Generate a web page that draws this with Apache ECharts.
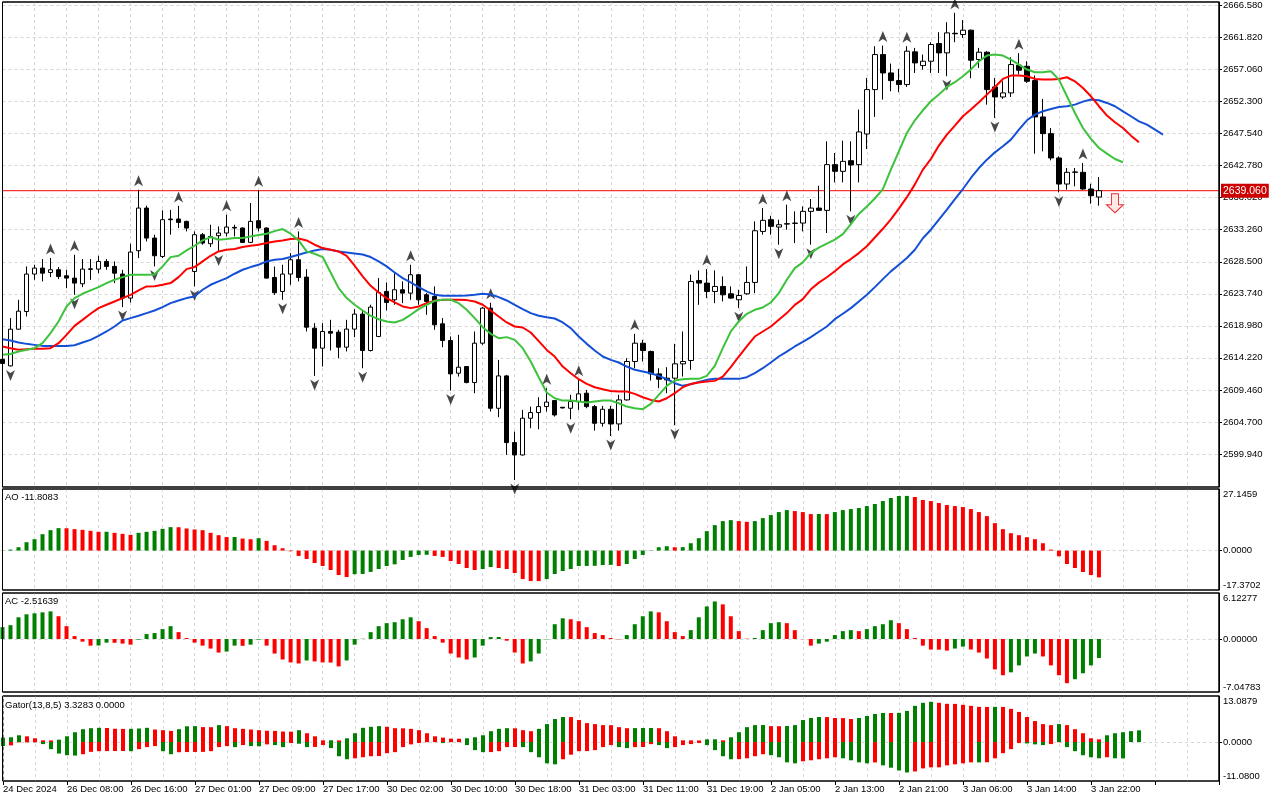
<!DOCTYPE html>
<html>
<head>
<meta charset="utf-8">
<title>XAUUSD H1 - Alligator, AO, AC, Gator</title>
<script src="https://cdn.jsdelivr.net/npm/echarts@6.0.0/dist/echarts.min.js"></script>
<style>
  html, body { margin: 0; padding: 0; background: #fff; }
  #main { width: 1280px; height: 800px; }
</style>
</head>
<body>
<div id="main"></div>
<script>
// time axis labels, one every 8 hourly bars
var timeLabels = ['24 Dec 2024', '26 Dec 08:00', '26 Dec 16:00', '27 Dec 01:00', '27 Dec 09:00', '27 Dec 17:00',
  '30 Dec 02:00', '30 Dec 10:00', '30 Dec 18:00', '31 Dec 03:00', '31 Dec 11:00', '31 Dec 19:00',
  '2 Jan 05:00', '2 Jan 13:00', '2 Jan 21:00', '3 Jan 06:00', '3 Jan 14:00', '3 Jan 22:00'];

var priceTicks = [2599.94, 2604.70, 2609.46, 2614.22, 2618.98, 2623.74, 2628.50, 2633.26,
  2638.02, 2642.78, 2647.54, 2652.30, 2657.06, 2661.82, 2666.58];
var aoTicks = [27.1459, 0, -17.3702];
var acTicks = [6.12277, 0, -7.04783];
var gatorTicks = [13.0879, 0, -11.0800];

var opens = [
  2614.00, 2613.03, 2618.48, 2621.11, 2626.67, 2627.56, 2626.91, 2627.31, 2626.42, 2626.07,
  2625.23, 2627.36, 2627.41, 2628.55, 2627.81, 2626.67, 2623.10, 2630.14, 2636.48, 2632.02,
  2629.29, 2634.85, 2634.85, 2634.50, 2627.06, 2632.52, 2631.18, 2632.37, 2632.77, 2633.61,
  2633.51, 2631.38, 2634.60, 2633.51, 2626.17, 2624.09, 2626.67, 2628.80, 2626.22, 2618.63,
  2615.66, 2618.14, 2618.04, 2615.81, 2618.49, 2620.72, 2615.31, 2617.40, 2624.09, 2622.85,
  2624.34, 2623.84, 2626.57, 2623.59, 2623.34, 2619.28, 2616.80, 2611.94, 2612.93, 2610.55,
  2616.40, 2621.61, 2606.73, 2611.54, 2601.63, 2599.79, 2605.25, 2606.09, 2606.98, 2607.87,
  2606.88, 2606.73, 2607.72, 2608.97, 2606.98, 2604.50, 2606.58, 2604.40, 2607.97, 2613.68,
  2616.40, 2615.16, 2611.84, 2611.20, 2611.20, 2613.33, 2613.83, 2625.72, 2625.33, 2624.09,
  2624.83, 2623.74, 2622.85, 2623.74, 2625.43, 2633.01, 2634.75, 2633.66, 2634.15, 2634.20,
  2634.25, 2635.99, 2636.48, 2636.14, 2642.93, 2641.94, 2643.52, 2642.93, 2647.49, 2654.08,
  2659.29, 2656.56, 2655.42, 2654.83, 2659.69, 2657.65, 2658.30, 2660.93, 2659.54, 2662.45,
  2662.26, 2662.91, 2658.55, 2659.64, 2654.48, 2652.99, 2653.59, 2657.70, 2657.55, 2655.42,
  2650.02, 2647.54, 2643.92, 2640.05, 2641.84, 2641.79, 2639.31, 2638.12];
var highs = [
  2614.30, 2620.12, 2622.85, 2627.81, 2628.05, 2628.90, 2629.05, 2627.71, 2627.31, 2629.54,
  2628.90, 2628.90, 2629.39, 2628.90, 2628.55, 2627.31, 2631.18, 2639.21, 2636.83, 2632.52,
  2636.14, 2636.20, 2636.80, 2634.60, 2633.01, 2632.77, 2634.00, 2633.76, 2635.49, 2634.00,
  2633.60, 2637.23, 2639.11, 2633.60, 2627.80, 2628.05, 2629.79, 2633.01, 2627.41, 2619.38,
  2619.38, 2619.87, 2618.39, 2619.87, 2621.46, 2621.36, 2622.11, 2626.07, 2625.43, 2626.82,
  2625.58, 2628.05, 2626.60, 2623.84, 2624.83, 2620.12, 2617.40, 2617.64, 2613.00, 2618.14,
  2621.80, 2622.40, 2613.92, 2611.69, 2603.26, 2606.49, 2606.98, 2608.37, 2609.71, 2607.90,
  2606.90, 2608.72, 2610.95, 2609.46, 2607.23, 2607.08, 2607.08, 2608.72, 2614.17, 2617.79,
  2616.90, 2615.31, 2612.68, 2612.83, 2616.30, 2618.14, 2626.57, 2627.21, 2627.41, 2627.21,
  2626.32, 2624.83, 2624.34, 2627.81, 2634.50, 2636.48, 2635.34, 2634.75, 2636.98, 2635.99,
  2636.73, 2637.82, 2639.80, 2646.40, 2644.66, 2646.50, 2646.40, 2651.11, 2655.82, 2660.53,
  2660.63, 2657.95, 2657.16, 2660.53, 2660.28, 2659.29, 2661.12, 2662.61, 2664.10, 2665.49,
  2664.40, 2663.01, 2660.28, 2659.79, 2655.82, 2655.32, 2658.90, 2659.50, 2658.30, 2656.17,
  2652.70, 2648.38, 2644.17, 2642.43, 2642.43, 2643.17, 2640.10, 2641.09];
var lows = [
  2613.30, 2612.93, 2618.40, 2620.37, 2625.82, 2625.58, 2626.22, 2625.92, 2624.58, 2623.59,
  2624.73, 2625.82, 2626.81, 2627.31, 2625.33, 2621.76, 2622.45, 2629.05, 2631.52, 2627.81,
  2629.05, 2632.52, 2633.51, 2633.01, 2624.83, 2631.03, 2630.68, 2630.04, 2632.27, 2632.27,
  2631.28, 2631.28, 2633.01, 2626.00, 2623.59, 2622.85, 2625.08, 2625.58, 2618.14, 2611.54,
  2612.93, 2615.31, 2614.17, 2615.17, 2617.30, 2612.68, 2615.17, 2617.30, 2621.26, 2622.11,
  2622.35, 2622.85, 2622.11, 2620.62, 2618.39, 2615.81, 2609.36, 2611.45, 2610.45, 2608.97,
  2616.15, 2606.24, 2605.40, 2599.79, 2596.07, 2599.70, 2603.76, 2603.61, 2606.24, 2605.50,
  2606.70, 2605.10, 2606.49, 2606.73, 2603.41, 2604.01, 2602.62, 2603.41, 2607.87, 2612.68,
  2613.68, 2610.85, 2609.71, 2608.97, 2604.20, 2611.45, 2612.44, 2622.10, 2623.10, 2622.35,
  2622.60, 2623.00, 2621.61, 2623.59, 2623.84, 2632.52, 2632.52, 2631.03, 2633.26, 2631.28,
  2633.01, 2631.03, 2636.05, 2632.77, 2640.30, 2640.30, 2635.99, 2640.30, 2645.26, 2650.02,
  2652.60, 2653.84, 2653.69, 2654.48, 2656.56, 2657.06, 2656.56, 2656.56, 2656.07, 2661.12,
  2661.77, 2655.77, 2657.31, 2651.85, 2649.87, 2652.70, 2652.99, 2656.32, 2655.08, 2644.56,
  2644.91, 2643.57, 2638.81, 2639.21, 2639.71, 2639.21, 2637.13, 2636.83];
var closes = [
  2613.40, 2618.48, 2621.16, 2626.67, 2627.56, 2626.81, 2627.31, 2626.32, 2626.07, 2625.33,
  2627.41, 2627.46, 2628.55, 2627.81, 2626.81, 2623.10, 2629.94, 2636.48, 2632.02, 2629.39,
  2634.75, 2634.75, 2634.35, 2633.51, 2632.52, 2631.28, 2632.27, 2632.77, 2633.66, 2633.51,
  2631.38, 2634.50, 2633.51, 2626.07, 2623.90, 2626.67, 2628.80, 2626.17, 2618.78, 2615.66,
  2618.14, 2617.89, 2615.81, 2618.49, 2620.72, 2615.31, 2621.76, 2623.94, 2622.45, 2624.34,
  2623.84, 2626.57, 2622.85, 2622.60, 2619.13, 2616.80, 2611.84, 2612.83, 2610.55, 2616.40,
  2621.61, 2606.73, 2611.54, 2601.63, 2599.79, 2605.25, 2606.09, 2606.98, 2607.65, 2605.74,
  2606.78, 2607.72, 2608.87, 2606.98, 2604.50, 2606.58, 2604.40, 2607.97, 2613.68, 2616.40,
  2615.31, 2611.84, 2611.05, 2610.95, 2613.33, 2613.68, 2625.57, 2625.33, 2624.09, 2624.83,
  2623.59, 2623.10, 2623.49, 2625.43, 2633.11, 2634.65, 2633.76, 2634.00, 2634.10, 2634.25,
  2635.99, 2636.48, 2636.14, 2642.93, 2641.94, 2643.42, 2642.88, 2647.79, 2654.08, 2659.29,
  2656.56, 2655.42, 2654.83, 2659.79, 2658.05, 2658.30, 2660.78, 2659.54, 2662.51, 2662.38,
  2662.91, 2658.45, 2659.64, 2654.08, 2652.99, 2653.59, 2657.80, 2656.96, 2655.32, 2650.02,
  2647.54, 2643.92, 2640.05, 2641.79, 2641.80, 2639.31, 2638.32, 2639.06];

// Alligator lines (already shifted forward: jaw 8, teeth 5, lips 3 bars)
var jaw = [
  2617.00, 2616.80, 2616.50, 2616.30, 2616.15, 2616.00, 2616.00, 2616.00, 2616.00, 2616.10,
  2616.50, 2616.90, 2617.49, 2618.14, 2618.88, 2619.77, 2620.12, 2620.47, 2620.87, 2621.26,
  2621.76, 2622.35, 2622.75, 2623.10, 2623.34, 2624.34, 2625.08, 2625.58, 2626.07, 2626.72,
  2627.31, 2627.71, 2628.05, 2628.55, 2628.80, 2628.90, 2629.20, 2629.54, 2629.89, 2630.19,
  2630.38, 2630.29, 2630.04, 2629.89, 2629.74, 2629.59, 2629.20, 2628.55, 2627.81, 2626.91,
  2626.07, 2625.43, 2624.73, 2624.09, 2623.59, 2623.44, 2623.44, 2623.44, 2623.49, 2623.59,
  2623.74, 2623.64, 2623.25, 2622.75, 2622.11, 2621.46, 2620.87, 2620.47, 2620.25, 2620.07,
  2619.48, 2618.63, 2617.39, 2616.30, 2615.31, 2614.42, 2613.92, 2613.53, 2612.93, 2612.44,
  2612.19, 2611.94, 2611.54, 2611.05, 2610.45, 2610.06, 2610.30, 2610.65, 2610.95, 2611.10,
  2611.10, 2611.10, 2611.10, 2611.35, 2611.94, 2612.68, 2613.53, 2614.42, 2615.16, 2615.91,
  2616.60, 2617.30, 2618.10, 2618.88, 2619.97, 2620.77, 2621.61, 2622.60, 2623.59, 2624.73,
  2625.92, 2627.07, 2628.06, 2629.05, 2630.29, 2632.00, 2633.26, 2634.75, 2636.24, 2637.82,
  2639.31, 2640.95, 2642.43, 2643.67, 2644.76, 2645.66, 2646.65, 2648.13, 2649.52, 2650.37,
  2650.86, 2651.21, 2651.51, 2651.61, 2651.85, 2652.30, 2652.60, 2652.50, 2652.10, 2651.61,
  2650.86, 2650.12, 2649.37, 2648.88, 2648.13, 2647.39];
var teeth = [
  2615.91, 2615.66, 2615.41, 2615.51, 2615.56, 2615.56, 2615.66, 2616.40, 2617.64, 2618.98,
  2619.87, 2620.77, 2621.61, 2622.11, 2622.60, 2623.10, 2623.59, 2624.24, 2624.83, 2624.85,
  2625.08, 2625.33, 2626.22, 2627.41, 2627.71, 2628.55, 2629.39, 2630.04, 2630.29, 2630.39,
  2630.68, 2630.88, 2631.03, 2631.28, 2631.52, 2631.67, 2631.87, 2631.97, 2631.67, 2631.03,
  2630.53, 2630.29, 2630.04, 2629.39, 2627.91, 2626.32, 2624.93, 2623.94, 2623.10, 2622.45,
  2621.86, 2621.61, 2621.86, 2622.35, 2622.70, 2622.85, 2622.85, 2622.85, 2622.80, 2622.60,
  2622.11, 2621.26, 2620.37, 2619.48, 2618.88, 2618.73, 2617.99, 2616.70, 2615.40, 2614.42,
  2612.93, 2611.94, 2611.05, 2610.35, 2609.86, 2609.56, 2609.31, 2609.21, 2609.21, 2608.87,
  2608.37, 2607.97, 2607.73, 2608.22, 2608.97, 2609.86, 2610.35, 2610.55, 2610.70, 2610.80,
  2611.44, 2612.83, 2614.42, 2615.91, 2617.39, 2618.14, 2618.88, 2619.87, 2620.87, 2622.10,
  2622.95, 2624.40, 2625.40, 2626.20, 2627.10, 2628.10, 2628.90, 2629.79, 2630.80, 2632.10,
  2633.40, 2634.80, 2636.40, 2638.10, 2640.00, 2642.19, 2643.77, 2645.76, 2647.39, 2648.73,
  2650.12, 2651.11, 2652.20, 2653.34, 2654.48, 2655.67, 2656.17, 2656.17, 2656.07, 2655.67,
  2655.57, 2655.57, 2655.67, 2655.92, 2655.32, 2654.33, 2653.09, 2651.61, 2650.22, 2649.23,
  2648.38, 2647.24, 2646.25];
var lips = [
  2614.67, 2614.80, 2615.16, 2615.41, 2615.66, 2616.40, 2617.89, 2619.63, 2621.86, 2623.10,
  2623.74, 2624.24, 2624.73, 2625.33, 2625.82, 2626.22, 2626.57, 2626.57, 2626.57, 2626.60,
  2627.81, 2629.19, 2629.39, 2630.19, 2630.88, 2631.67, 2632.17, 2631.77, 2631.87, 2632.02,
  2632.02, 2632.27, 2632.47, 2632.67, 2633.05, 2633.36, 2632.67, 2631.67, 2630.04, 2629.69,
  2629.20, 2626.91, 2624.58, 2623.10, 2622.11, 2621.26, 2620.47, 2619.97, 2619.63, 2619.48,
  2619.87, 2620.62, 2621.46, 2622.11, 2622.70, 2622.85, 2622.85, 2622.35, 2621.36, 2620.12,
  2618.78, 2617.79, 2617.15, 2617.30, 2616.90, 2615.66, 2613.68, 2611.35, 2609.07, 2608.22,
  2607.87, 2607.87, 2607.73, 2607.58, 2607.73, 2607.87, 2607.87, 2607.48, 2606.98, 2606.73,
  2606.59, 2607.38, 2608.72, 2610.06, 2610.85, 2611.05, 2611.10, 2611.10, 2611.54, 2613.03,
  2615.66, 2618.14, 2619.63, 2620.77, 2621.36, 2621.71, 2622.45, 2623.84, 2625.82, 2627.56,
  2628.40, 2629.80, 2630.60, 2631.20, 2631.80, 2632.60, 2634.10, 2635.60, 2636.70, 2637.90,
  2639.30, 2642.19, 2644.91, 2647.64, 2649.52, 2651.01, 2652.35, 2653.34, 2654.48, 2655.18,
  2656.07, 2657.06, 2658.30, 2659.14, 2659.29, 2659.14, 2658.55, 2657.80, 2657.06, 2656.66,
  2656.66, 2656.81, 2655.57, 2653.09, 2650.61, 2648.38, 2646.75, 2645.41, 2644.57, 2643.77,
  2643.28];

// bar indexes carrying a fractal
var fractalUp = [6, 9, 17, 22, 28, 32, 37, 51, 61, 68, 72, 79, 88, 95, 98, 110, 113, 119, 127, 135];
var fractalDown = [1, 9, 15, 19, 24, 27, 35, 39, 45, 56, 64, 71, 76, 84, 92, 97, 101, 106, 118, 124, 132];
var sellSignal = [[139, 2637.2]];

var ao = [
  0.10, 0.44, 1.48, 3.69, 5.02, 7.23, 9.00, 9.89, 9.85, 9.45,
  9.15, 8.71, 8.27, 8.30, 7.82, 7.38, 6.94, 7.82, 8.27, 8.71,
  9.59, 10.33, 10.30, 9.74, 9.30, 9.00, 7.82, 6.79, 5.95, 6.00,
  5.31, 5.02, 5.46, 4.28, 2.36, 1.03, -0.30, -2.36, -3.69, -5.46,
  -6.79, -8.56, -10.78, -11.66, -10.40, -10.30, -9.40, -8.12, -6.79, -6.05,
  -4.13, -2.80, -1.92, -1.85, -2.36, -2.80, -4.58, -5.90, -7.68, -8.56,
  -8.12, -7.23, -7.68, -8.12, -9.89, -12.55, -13.43, -13.45, -12.55, -10.33,
  -9.00, -8.12, -6.79, -6.75, -6.70, -6.35, -6.30, -6.79, -5.90, -3.69,
  -1.92, -0.15, 1.48, 1.92, 1.48, 1.52, 3.25, 5.46, 8.56, 11.22,
  12.99, 13.43, 12.99, 12.69, 12.99, 14.32, 15.65, 16.97, 17.86, 17.42,
  16.97, 16.09, 16.12, 16.08, 16.97, 17.86, 18.30, 18.75, 19.63, 20.52,
  21.84, 23.17, 24.06, 24.10, 23.62, 22.29, 21.84, 20.96, 20.07, 19.63,
  19.19, 18.30, 16.97, 15.20, 12.10, 9.45, 7.68, 6.79, 5.90, 5.02,
  3.25, 0.44, -2.51, -5.90, -7.68, -9.45, -10.78, -11.81];
var ac = [
  1.58, 1.84, 2.89, 3.29, 3.42, 3.55, 3.68, 3.03, 1.71, 0.39,
  -0.35, -0.88, -0.86, -0.48, -0.50, -0.61, -0.75, -0.09, 0.66, 0.79,
  1.32, 1.71, 0.92, 0.13, -0.48, -0.88, -1.27, -1.80, -1.67, -0.88,
  -0.90, -0.75, -0.09, -0.88, -1.93, -2.72, -3.11, -3.25, -2.85, -2.98,
  -3.11, -3.13, -3.64, -2.85, -0.75, 0.04, 0.92, 1.71, 2.11, 2.24,
  2.63, 2.89, 2.37, 1.45, 0.39, -0.48, -1.93, -2.46, -2.72, -2.46,
  -0.88, 0.26, 0.27, -0.22, -1.80, -3.25, -2.98, -1.93, -0.05, 1.97,
  2.76, 2.63, 2.37, 1.58, 0.79, 0.53, 0.13, -0.05, 0.53, 1.97,
  3.03, 3.68, 3.55, 2.37, 0.92, 0.39, 1.18, 2.89, 4.34, 5.00,
  4.61, 3.03, 1.05, 0.05, 0.13, 1.18, 2.11, 2.24, 2.11, 1.18,
  -0.02, -0.88, -0.61, -0.35, 0.53, 1.05, 1.18, 1.05, 1.32, 1.71,
  1.97, 2.50, 2.11, 1.32, 0.13, -0.88, -1.40, -1.42, -1.54, -1.27,
  -1.01, -1.40, -1.80, -2.59, -4.04, -4.82, -4.43, -3.51, -2.32, -1.93,
  -2.32, -3.51, -4.82, -5.88, -5.35, -4.56, -3.51, -2.52];
var gatorUpper = [
  1.25, 1.35, 1.92, 1.63, 1.06, 0.48, 0.45, 0.67, 1.63, 2.79,
  3.65, 3.94, 4.04, 4.00, 3.78, 3.74, 3.76, 3.85, 4.04, 3.56,
  3.37, 3.17, 3.65, 4.48, 4.52, 4.25, 4.22, 4.81, 4.52, 3.94,
  3.75, 3.56, 3.37, 3.20, 3.17, 2.98, 2.95, 3.37, 2.50, 1.63,
  0.48, 0.50, 0.46, 1.06, 2.50, 4.04, 4.33, 4.52, 4.33, 3.94,
  3.90, 3.75, 3.37, 2.50, 1.63, 1.25, 0.96, 0.94, 1.06, 1.35,
  1.92, 3.08, 3.75, 3.94, 3.90, 3.37, 3.08, 3.75, 5.10, 6.54,
  7.12, 7.10, 6.25, 5.38, 5.10, 4.81, 4.80, 4.23, 3.94, 3.96,
  3.98, 4.00, 3.94, 3.08, 1.63, 0.48, 0.47, 0.46, 0.77, 0.78,
  0.48, 1.35, 2.79, 4.23, 4.81, 4.83, 4.52, 4.50, 4.55, 4.81,
  6.25, 6.83, 7.12, 7.10, 6.83, 6.80, 6.54, 6.83, 7.40, 7.98,
  8.27, 8.25, 8.30, 8.85, 10.29, 11.15, 11.44, 11.15, 10.87, 10.85,
  10.58, 10.29, 10.00, 9.98, 10.00, 9.98, 9.42, 8.56, 7.12, 5.96,
  5.10, 4.81, 5.10, 4.81, 3.65, 2.50, 1.06, 0.77, 1.92, 2.50,
  2.79, 3.10, 3.33];
var gatorLower = [
  1.15, 0.96, 0.10, 0.09, 0.08, 0.58, 2.02, 3.27, 3.75, 3.85,
  3.46, 2.79, 2.60, 2.58, 2.56, 2.55, 2.60, 2.02, 1.44, 1.15,
  2.60, 3.46, 2.90, 2.85, 2.82, 2.80, 2.60, 1.44, 1.15, 1.44,
  0.87, 1.15, 1.20, 0.67, 0.87, 1.44, 0.29, 0.48, 1.44, 1.40,
  0.87, 1.73, 4.04, 4.90, 4.62, 4.33, 4.04, 4.00, 3.17, 2.88,
  1.44, 0.67, 0.29, 0.05, 0.04, 0.29, 0.05, 0.04, 0.87, 2.31,
  2.88, 2.86, 2.60, 1.44, 1.42, 1.44, 2.88, 4.33, 6.06, 6.35,
  4.90, 3.60, 2.60, 2.58, 2.31, 1.44, 0.87, 1.44, 1.73, 1.44,
  1.42, 0.60, 0.87, 1.73, 1.44, 0.87, 0.58, 0.29, 0.87, 2.31,
  4.04, 4.90, 4.88, 4.62, 4.04, 3.46, 3.75, 4.33, 5.77, 6.06,
  5.48, 5.19, 4.90, 4.62, 4.33, 4.62, 5.19, 5.77, 6.06, 5.80,
  6.63, 7.30, 8.08, 8.65, 8.37, 7.50, 7.21, 7.20, 6.63, 6.35,
  6.06, 5.77, 5.79, 5.75, 4.62, 3.17, 2.02, 0.30, 0.40, 0.67,
  0.87, 0.58, 0.05, 1.44, 2.60, 3.75, 4.33, 4.62, 4.33, 4.62,
  4.65];

var FONT = 'Liberation Sans';
var GREEN = '#008000';
var RED = '#ff0000';
var GRID_LINE = { color: '#d6d6d6', type: [3, 3], width: 1 };
var SLOTS = 153;
var PLOT_LEFT = 2.5, PLOT_RIGHT = 61, PLOT_WIDTH = 1280 - PLOT_LEFT - PLOT_RIGHT;

var cats = [];
for (var i = 0; i < SLOTS; i++) {
  cats.push(i % 8 === 0 && timeLabels[i / 8] ? timeLabels[i / 8] : '');
}

var candles = opens.map(function (o, i) { return [o, closes[i], lows[i], highs[i]]; });
var lastClose = closes[closes.length - 1];

// MT4 style: green when the bar rises over the previous one, red otherwise
function colouredBars(vals, sign) {
  var s = sign === undefined ? 1 : sign;
  return vals.map(function (v, i) {
    var up = i === 0 || v > vals[i - 1];
    return { value: s * v, itemStyle: { color: up ? GREEN : RED } };
  });
}

var panels = [
  { top: 2, height: 485 },
  { top: 489, height: 101 },
  { top: 593, height: 99 },
  { top: 696, height: 85 }
];
var grids = panels.map(function (p) {
  return { left: PLOT_LEFT, right: PLOT_RIGHT, top: p.top, height: p.height, show: true,
    borderColor: '#000', borderWidth: 1, backgroundColor: '#fff' };
});
// solid frames drawn above the dashed grid lines
var frames = panels.map(function (p) {
  return { type: 'rect', z: 100, silent: true,
    shape: { x: PLOT_LEFT, y: p.top, width: PLOT_WIDTH, height: p.height },
    style: { fill: null, stroke: '#000', lineWidth: 1 } };
});

function xAxisFor(idx, withLabels) {
  return {
    type: 'category', gridIndex: idx, data: cats, boundaryGap: false, position: 'bottom',
    axisLine: { show: false, onZero: false },
    axisTick: { show: withLabels, interval: 7, length: 4, lineStyle: { color: '#000' } },
    axisLabel: { show: withLabels, interval: 7, align: 'left', margin: 3, color: '#000', fontSize: 9.5, fontFamily: FONT },
    splitLine: { show: true, interval: 3, lineStyle: GRID_LINE }
  };
}

function subAxis(idx, ticks, digits) {
  return {
    type: 'value', gridIndex: idx, position: 'right',
    min: ticks[2], max: ticks[0],
    axisLine: { show: true, lineStyle: { color: '#000' } },
    axisTick: { show: true, length: 3, customValues: [0], lineStyle: { color: '#000' } },
    axisLabel: {
      customValues: ticks, color: '#000', fontSize: 9.5, fontFamily: FONT, margin: 4,
      verticalAlignMaxLabel: 'bottom', verticalAlignMinLabel: 'top',
      formatter: function (v) { return v.toFixed(digits); }
    },
    splitLine: { show: true, lineStyle: GRID_LINE }
  };
}

var upArrow = 'path://M5,0 L10,11 L5,8 L0,11 Z';
var downArrow = 'path://M0,0 L5,3 L10,0 L5,11 Z';
var titleStyle = { fontSize: 9.5, fontWeight: 'normal', color: '#000', fontFamily: FONT };

var chart = echarts.init(document.getElementById('main'));
chart.setOption({
  animation: false,
  backgroundColor: '#fff',
  title: [
    { text: 'AO -11.8083', left: 5, top: 492, padding: 0, textStyle: titleStyle },
    { text: 'AC -2.51639', left: 5, top: 596, padding: 0, textStyle: titleStyle },
    { text: 'Gator(13,8,5) 3.3283 0.0000', left: 5, top: 700, padding: 0, textStyle: titleStyle }
  ],
  graphic: frames,
  grid: grids,
  xAxis: [xAxisFor(0, false), xAxisFor(1, false), xAxisFor(2, false), xAxisFor(3, true)],
  yAxis: [
    {
      type: 'value', gridIndex: 0, position: 'right', min: 2595.03, max: 2667.10,
      axisLine: { show: true, lineStyle: { color: '#000' } },
      axisTick: { show: true, length: 3, customValues: priceTicks, lineStyle: { color: '#000' } },
      axisLabel: {
        customValues: priceTicks, color: '#000', fontSize: 9.5, fontFamily: FONT, margin: 4,
        formatter: function (v) { return v.toFixed(3); }
      },
      splitLine: { show: true, lineStyle: GRID_LINE }
    },
    subAxis(1, aoTicks, 4),
    subAxis(2, acTicks, 5),
    subAxis(3, gatorTicks, 4)
  ],
  series: [
    {
      type: 'candlestick', xAxisIndex: 0, yAxisIndex: 0, data: candles, barWidth: 5,
      itemStyle: { color: '#fff', color0: '#000', borderColor: '#000', borderColor0: '#000', borderWidth: 1 }
    },
    { name: 'Jaw', type: 'line', xAxisIndex: 0, yAxisIndex: 0, data: jaw, symbol: 'none',
      lineStyle: { color: '#1450d6', width: 2 } },
    { name: 'Teeth', type: 'line', xAxisIndex: 0, yAxisIndex: 0, data: teeth, symbol: 'none',
      lineStyle: { color: '#ff0000', width: 2 } },
    { name: 'Lips', type: 'line', xAxisIndex: 0, yAxisIndex: 0, data: lips, symbol: 'none',
      lineStyle: { color: '#3cc23c', width: 2 } },
    {
      // current bid line across the chart, with its price tag on the axis
      name: 'Bid', type: 'line', xAxisIndex: 0, yAxisIndex: 0, symbol: 'none', z: 1,
      data: [[0, lastClose], [SLOTS - 1, lastClose]],
      color: '#ff0000', lineStyle: { color: '#ff0000', width: 1, type: 'solid' },
      endLabel: {
        show: true, distance: 2, formatter: lastClose.toFixed(3),
        color: '#fff', backgroundColor: '#cc0000', padding: [2, 2, 1, 2],
        fontSize: 10.5, fontFamily: FONT
      }
    },
    {
      type: 'scatter', xAxisIndex: 0, yAxisIndex: 0, symbol: upArrow, symbolSize: [9, 11],
      symbolOffset: [0, -9], itemStyle: { color: '#1a1a1a' },
      data: fractalUp.map(function (i) { return [i, highs[i]]; })
    },
    {
      type: 'scatter', xAxisIndex: 0, yAxisIndex: 0, symbol: downArrow, symbolSize: [9, 11],
      symbolOffset: [0, 9], itemStyle: { color: '#1a1a1a' },
      data: fractalDown.map(function (i) { return [i, lows[i]]; })
    },
    {
      type: 'scatter', xAxisIndex: 0, yAxisIndex: 0,
      symbol: 'path://M5,0 H12 V11 H17 L8.5,19 L0,11 H5 Z', symbolSize: [17, 19],
      itemStyle: { color: '#ffe2e2', borderColor: '#e00000', borderWidth: 1 },
      data: sellSignal
    },
    { type: 'bar', xAxisIndex: 1, yAxisIndex: 1, barWidth: 4, data: colouredBars(ao) },
    { type: 'bar', xAxisIndex: 2, yAxisIndex: 2, barWidth: 4, data: colouredBars(ac) },
    { type: 'bar', xAxisIndex: 3, yAxisIndex: 3, barWidth: 4, barGap: '-100%', data: colouredBars(gatorUpper, 1) },
    { type: 'bar', xAxisIndex: 3, yAxisIndex: 3, barWidth: 4, barGap: '-100%', data: colouredBars(gatorLower, -1) }
  ]
});
</script>
</body>
</html>
